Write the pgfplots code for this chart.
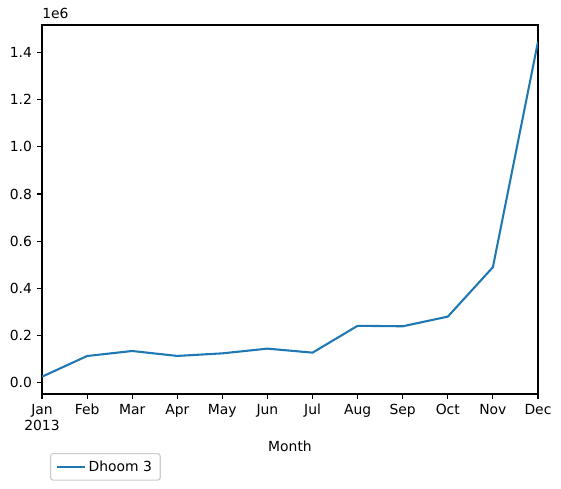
\documentclass[border=0pt]{standalone}
\usepackage{fontspec}
\setmainfont{DejaVu Sans}
\usepackage{pgfplots}
\pgfplotsset{compat=1.18}
\definecolor{tabblue}{HTML}{1F77B4}
\begin{document}
\begin{tikzpicture}[x=0.72pt,y=0.72pt]
\begin{axis}[
  name=ax,
  at={(0,0)}, anchor=south west,
  scale only axis,
  width=357.1pt, height=265.7pt,
  xmin=0, xmax=11,
  ymin=-49700, ymax=1518000,
  xtick={0,...,11},
  xticklabels={{Jan\\2013},Feb,Mar,Apr,May,Jun,Jul,Aug,Sep,Oct,Nov,Dec},
  xticklabel style={align=center, font=\fontsize{10}{11.5}\selectfont, inner sep=0pt, yshift=-3.5pt},
  ytick={0,200000,400000,600000,800000,1000000,1200000,1400000},
  yticklabels={0.0,0.2,0.4,0.6,0.8,1.0,1.2,1.4},
  yticklabel style={font=\fontsize{10}{12}\selectfont, inner sep=0pt, xshift=-3.5pt},
  scaled y ticks=false,
  tick align=outside,
  major tick length=3.5pt,
  xtick pos=bottom, ytick pos=left,
  axis line style={line width=0.8pt},
  every tick/.style={line width=0.8pt, black},
  xlabel={Month},
  xlabel style={at={(axis description cs:0.5,-0.141)}, anchor=center, font=\fontsize{10}{12}\selectfont},
  legend style={at={(axis description cs:0.016,-0.16)}, anchor=north west,
    draw=black!20, rounded corners=2pt, font=\fontsize{10}{12}\selectfont,
    inner xsep=4pt, inner ysep=3pt, line width=0.8pt},
  legend cell align=left,
  legend image code/.code={\draw[#1] (0pt,0pt) -- (20pt,0pt);},
]
\addplot[tabblue, line width=1.5pt] coordinates {
(0,23800) (1,111700) (2,133000) (3,112000) (4,123000) (5,143000)
(6,126000) (7,240000) (8,238000) (9,279000) (10,489000) (11,1447000)
};
\addlegendentry{Dhoom 3}
\end{axis}
\node[anchor=south west, inner sep=0pt, font=\fontsize{10}{12}\selectfont] at ([yshift=4pt]ax.north west) {1e6};
\path ([xshift=-42*0.72pt, yshift=-94*0.72pt]ax.south west) rectangle ++(561*0.72pt, 488*0.72pt);
\end{tikzpicture}
\end{document}
